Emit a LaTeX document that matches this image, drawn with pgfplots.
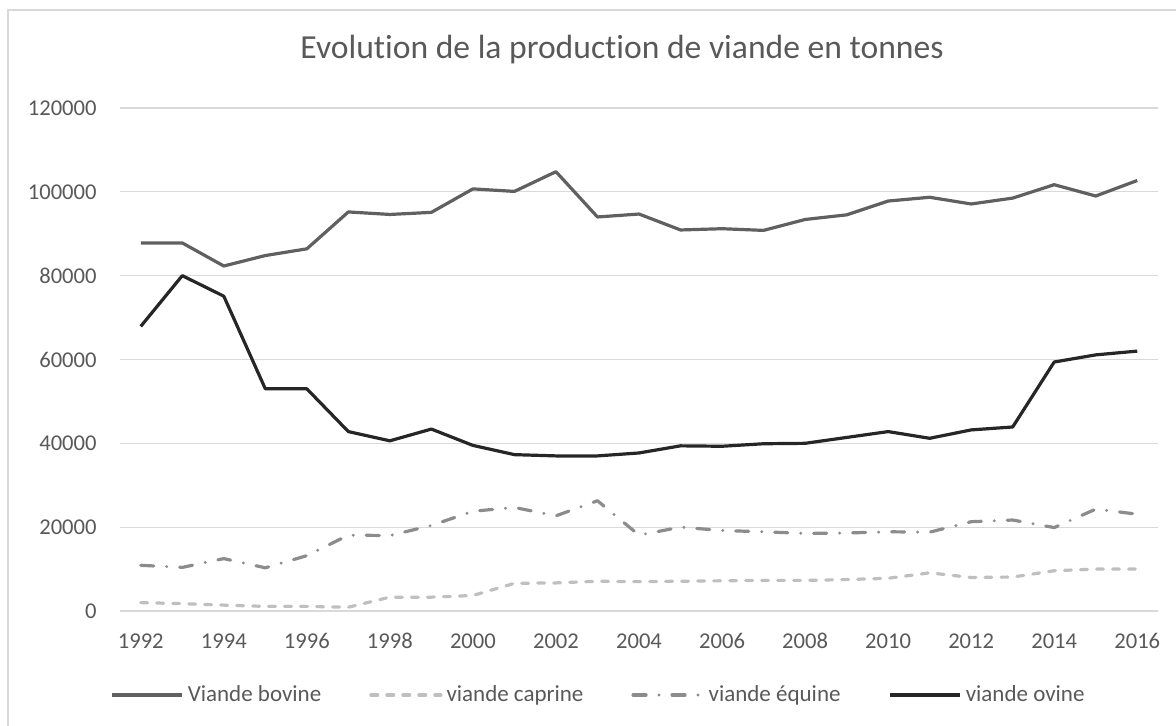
\documentclass[border=0pt]{standalone}
\usepackage{fontspec}
\setmainfont{Carlito}[Ligatures=NoCommon]
\usepackage{pgfplots}
\pgfplotsset{compat=1.18}
\definecolor{ctxt}{HTML}{595959}
\definecolor{cgrid}{HTML}{D9D9D9}
\definecolor{cbov}{HTML}{606060}
\definecolor{ccap}{HTML}{BFBFBF}
\definecolor{cequ}{HTML}{8C8C8C}
\definecolor{covi}{HTML}{262626}
\begin{document}
\begin{tikzpicture}
\useasboundingbox (0,0) rectangle (588pt,363pt);
\draw[color=cgrid, line width=0.8pt] (4pt,0) -- (4pt,358pt) -- (588pt,358pt);
\node[text=ctxt, font=\fontsize{16.8}{20}\selectfont] at (311pt,338pt) {Evolution de la production de viande en tonnes};
\begin{axis}[
  at={(60pt,57.5pt)}, anchor=south west,
  scale only axis, width=519pt, height=251.5pt,
  xmin=1991.5, xmax=2016.5, ymin=0, ymax=120000,
  xtick={1992,1994,1996,1998,2000,2002,2004,2006,2008,2010,2012,2014,2016},
  xticklabels={1992,1994,1996,1998,2000,2002,2004,2006,2008,2010,2012,2014,2016},
  ytick={0,20000,40000,60000,80000,100000,120000},
  yticklabels={0,20000,40000,60000,80000,100000,120000},
  axis line style={draw=none},
  major tick length=0pt,
  ymajorgrids, grid style={color=cgrid, line width=0.6pt},
  scaled y ticks=false,
  tick label style={text=ctxt, font=\fontsize{11.3}{13}\selectfont, inner sep=0pt},
  yticklabel style={xshift=-11.5pt},
  xticklabel style={yshift=-11pt},
  legend columns=4,
  legend style={at={(axis description cs:0.462,-0.167)}, anchor=center, draw=none, fill=none,
    font=\fontsize{11.5}{13}\selectfont, text=ctxt, inner sep=0pt,
    /tikz/every even column/.append style={column sep=22pt}},
  legend image code/.code={\draw[#1] (0pt,0pt) -- (35pt,0pt);},
  legend cell align=left,
]
\addplot[color=cbov, line width=1.6pt, line join=round] coordinates {
(1992,87800) (1993,87800) (1994,82300) (1995,84800) (1996,86400) (1997,95200) (1998,94600) (1999,95100) (2000,100700) (2001,100100) (2002,104800) (2003,94000) (2004,94700) (2005,90900) (2006,91200) (2007,90800) (2008,93400) (2009,94500) (2010,97800) (2011,98700) (2012,97100) (2013,98500) (2014,101700) (2015,99000) (2016,102700)};
\addlegendentry{Viande bovine}
\addplot[color=ccap, line width=1.6pt, line cap=round, line join=round, dash pattern=on 3.4pt off 4.6pt] coordinates {
(1992,2000) (1993,1750) (1994,1400) (1995,1100) (1996,1100) (1997,900) (1998,3300) (1999,3300) (2000,3700) (2001,6600) (2002,6700) (2003,7100) (2004,7000) (2005,7100) (2006,7200) (2007,7300) (2008,7300) (2009,7500) (2010,7800) (2011,9100) (2012,8000) (2013,8100) (2014,9600) (2015,10000) (2016,10000)};
\addlegendentry{viande caprine}
\addplot[color=cequ, line width=1.6pt, line cap=round, line join=round, dash pattern=on 6.5pt off 6.5pt on 0pt off 6.5pt] coordinates {
(1992,10900) (1993,10400) (1994,12500) (1995,10300) (1996,13200) (1997,18100) (1998,18000) (1999,20400) (2000,23800) (2001,24700) (2002,22700) (2003,26300) (2004,18100) (2005,20000) (2006,19200) (2007,18900) (2008,18500) (2009,18600) (2010,18900) (2011,18800) (2012,21300) (2013,21700) (2014,19900) (2015,24300) (2016,23100)};
\addlegendentry{viande équine}
\addplot[color=covi, line width=1.6pt, line join=round] coordinates {
(1992,67900) (1993,80000) (1994,75100) (1995,53000) (1996,53000) (1997,42800) (1998,40600) (1999,43400) (2000,39500) (2001,37300) (2002,37000) (2003,37000) (2004,37700) (2005,39400) (2006,39300) (2007,39900) (2008,40000) (2009,41400) (2010,42800) (2011,41200) (2012,43200) (2013,43900) (2014,59400) (2015,61100) (2016,62000)};
\addlegendentry{viande ovine}
\end{axis}
\end{tikzpicture}
\end{document}
